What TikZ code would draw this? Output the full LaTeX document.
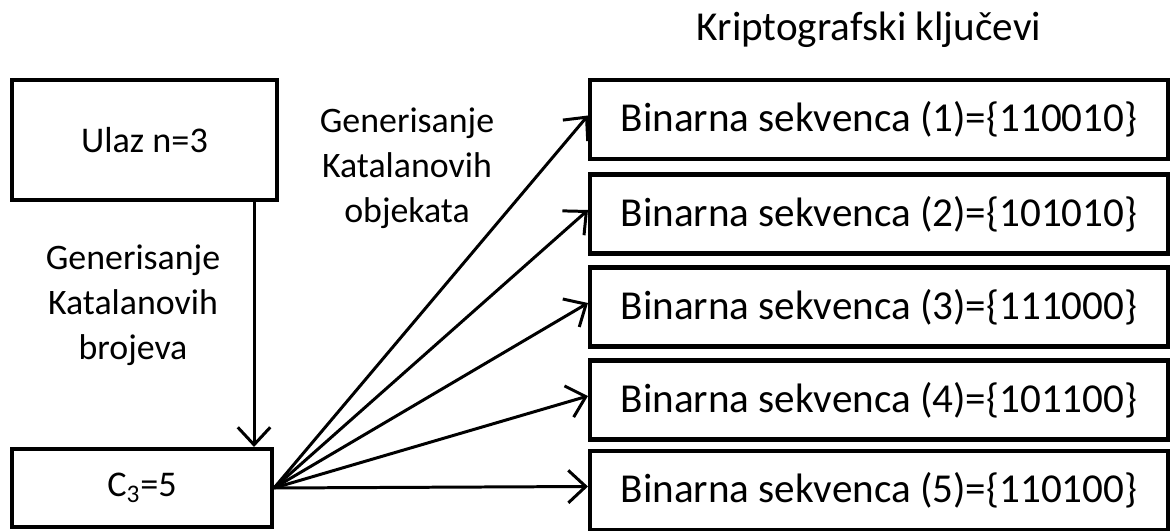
\documentclass[tikz,border=0pt]{standalone}
\usepackage{fontspec}
\setmainfont{Carlito}
\usepackage{tikz}
\usetikzlibrary{arrows.meta, positioning, calc}

\begin{document}
\begin{tikzpicture}[
    box/.style={draw, line width=2.3pt, minimum width=5.3cm, minimum height=2.4cm, align=center, font=\fontsize{20.6pt}{25.6pt}\selectfont},
    keybox/.style={draw, line width=2.3pt, minimum width=11.56cm, minimum height=1.58cm, align=center},
    label/.style={align=center, font=\fontsize{20.4pt}{25.6pt}\selectfont},
    arrow/.style={-{Straight Barb[length=3.5mm, width=6.5mm, line width=1.7pt]}, line width=1.7pt}
]
    \fontsize{23.4pt}{25.6pt}\selectfont
    \useasboundingbox (0,0) rectangle (23.4,10.62);

    % Input and Catalan number
    \node[box] (ulaz) at (2.89,7.82) {Ulaz n=3};
    \node[box, minimum width=5.2cm, minimum height=1.56cm] (c3) at (2.84,0.86) {C\textsubscript{3}=5};

    % Title
    \node (title) at (17.38,10.02) {Kriptografski ključevi};

    % Keys
    \node[keybox] (k1) at (17.58,8.23) {Binarna sekvenca (1)=\{110010\}};
    \node[keybox] (k2) at (17.58,6.34) {Binarna sekvenca (2)=\{101010\}};
    \node[keybox] (k3) at (17.58,4.48) {Binarna sekvenca (3)=\{111000\}};
    \node[keybox] (k4) at (17.58,2.62) {Binarna sekvenca (4)=\{101100\}};
    \node[keybox] (k5) at (17.58,0.81) {Binarna sekvenca (5)=\{110100\}};

    % Step labels
    \node[label] (brojevi) at (2.66,4.52) {Generisanje\\Katalanovih\\brojeva};
    \node[label] (objekti) at (8.14,7.26) {Generisanje\\Katalanovih\\objekata};

    % Connections
    \coordinate (down) at ([xshift=-0.5cm]ulaz.south east);
    \draw[arrow] (down) -- (down |- c3.north);
    \foreach \k in {k1,k2,k3,k4,k5}
        \draw[arrow] (c3.east) -- ([yshift=0.08cm]\k.west);
\end{tikzpicture}
\end{document}
